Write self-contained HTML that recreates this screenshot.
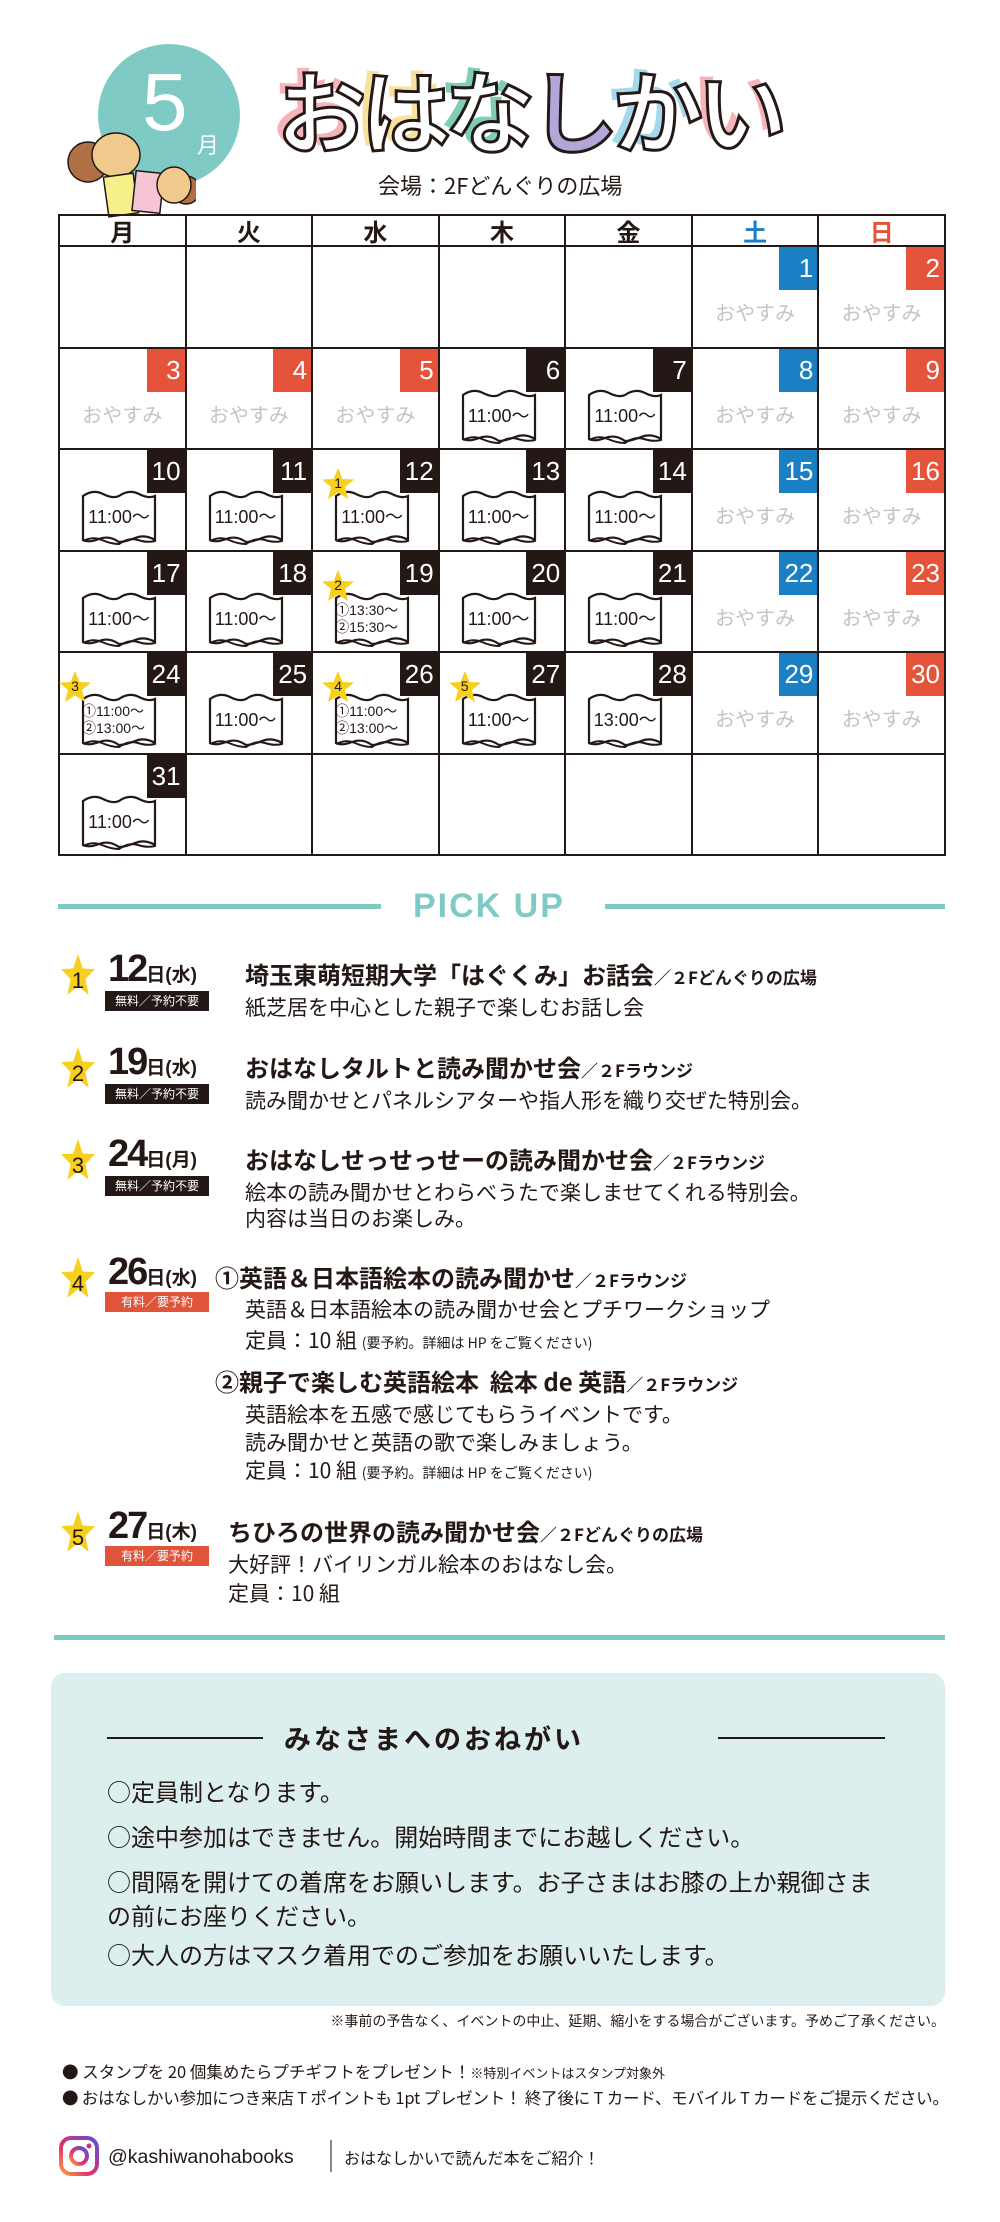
<!DOCTYPE html>
<html><head><meta charset="utf-8">
<style>
*{margin:0;padding:0;box-sizing:border-box}
body{width:1000px;height:2222px;background:#fff;position:relative;overflow:hidden;font-family:"Liberation Sans","Noto Sans CJK JP",sans-serif;color:#231815}
.a{position:absolute;white-space:nowrap}
table{position:absolute;left:58px;top:214px;width:888px;border-collapse:collapse;table-layout:fixed}
td{border:2.5px solid #231815;height:101.5px;padding:0;vertical-align:top}
th{border:2.5px solid #231815;height:31px;font-size:24px;line-height:26px;font-weight:bold;font-family:"Noto Sans CJK JP",sans-serif}
.c{position:relative;height:100%;width:100%}
.n{position:absolute;top:0;right:0;width:38px;height:43px;background:#231815;color:#fff;font-size:26px;line-height:43px;text-align:right;padding-right:4px}
.n.b{background:#1b7fc4}.n.r{background:#e5533a}
.ya{position:absolute;left:0;right:0;top:50px;text-align:center;color:#c4c4c4;font-size:20px;font-family:"Noto Sans CJK JP",sans-serif}
.bk{position:absolute;left:20px;top:38px;width:78px;height:58px}
.bk svg{position:absolute;left:0;top:0}
.bk span{position:absolute;left:0;right:0;top:19px;text-align:center;font-size:18px;line-height:20px}
.bk span.t{top:12px;font-size:14px;line-height:17px;left:2px;text-align:left}
.st{position:absolute;left:8px;top:18px;width:34px;height:32px}
.st b{position:absolute;left:0;right:0;top:7px;text-align:center;font-size:14px;font-weight:normal}
.star{position:absolute;width:36px;height:42px}
.star b{position:absolute;left:0;right:0;top:14px;text-align:center;font-size:22px;font-weight:normal}
.dt{position:absolute;left:108px;font-size:38px;font-weight:bold;letter-spacing:-2px;line-height:38px}
.dt small{font-size:19px;letter-spacing:0}
.bd{position:absolute;left:105px;width:104px;height:20px;background:#231815;color:#fff;font-size:12px;line-height:20px;text-align:center;font-family:"Noto Sans CJK JP",sans-serif}
.bd.r{background:#e0553a}
.tt{position:absolute;font-size:24px;font-weight:bold;line-height:28px;white-space:nowrap;font-family:"Noto Sans CJK JP",sans-serif}
.tt small{font-size:17px}
.ds{position:absolute;font-size:21px;line-height:26px;white-space:nowrap;font-family:"Noto Sans CJK JP",sans-serif}
.ds small{font-size:14px}
.ni{position:absolute;left:107px;font-size:24px;line-height:30px;white-space:nowrap;font-family:"Noto Sans CJK JP",sans-serif}
</style></head><body>
<svg width="0" height="0" style="position:absolute">
<defs>
<symbol id="book" viewBox="0 0 78 58"><path d="M3,8 Q13,1 23,6 T39,8 Q49,1 59,6 T75,8 L75,52 Q65,46 55,50 T39,54 Q29,47 19,51 T3,52 Z" fill="#fff" stroke="#231815" stroke-width="2.2"/><path d="M3,53 Q13,48 22,52 T39,56 Q49,49 58,52 T75,53" fill="none" stroke="#231815" stroke-width="2"/></symbol>
<symbol id="star" viewBox="0 0 34 32"><polygon points="17,0 21.5,11 33,11.5 24,19 27,31 17,24.5 7,31 10,19 1,11.5 12.5,11" fill="#f7cf1d"/></symbol>
</defs></svg>

<div class="a" style="left:98px;top:44px;width:142px;height:142px;border-radius:50%;background:#7fcac5"></div>
<div class="a" style="left:142px;top:58px;font-size:82px;line-height:90px;color:#fff;font-family:'Liberation Sans',sans-serif">5</div>
<div class="a" style="left:197px;top:128px;font-size:22px;color:#fff;font-family:'Noto Sans CJK JP',sans-serif">月</div>
<svg class="a" style="left:66px;top:120px" width="130" height="100" viewBox="0 0 130 100">
<circle cx="22" cy="42" r="20" fill="#b06f45" stroke="#231815" stroke-width="1.5"/>
<ellipse cx="50" cy="35" rx="24" ry="22" fill="#f0c98c" stroke="#231815" stroke-width="1.5"/>
<rect x="40" y="55" width="30" height="40" fill="#f7f08a" stroke="#231815" stroke-width="1.5" transform="rotate(-8 55 75)"/>
<rect x="68" y="52" width="28" height="40" fill="#f7c4d4" stroke="#231815" stroke-width="1.5" transform="rotate(6 82 72)"/>
<circle cx="120" cy="70" r="14" fill="#b06f45" stroke="#231815" stroke-width="1.5"/>
<ellipse cx="108" cy="65" rx="17" ry="18" fill="#f0c98c" stroke="#231815" stroke-width="1.5"/>
</svg>
<div class="a" style="left:277px;top:52px;font-size:90px;line-height:110px;letter-spacing:-6px;font-weight:bold;font-family:'Noto Sans CJK JP',sans-serif;-webkit-text-stroke:3px #231815;color:#fff">
<span style="text-shadow:-7px -5px 0 #f4b4ba">お</span><span style="text-shadow:-7px -5px 0 #f8e19c">は</span><span style="text-shadow:-7px -5px 0 #7fcdb4">な</span><span style="color:#b3a6d8">し</span><span style="text-shadow:-7px -5px 0 #a5d8ea">か</span><span style="text-shadow:-7px -5px 0 #f4b4ba">い</span></div>
<div class="a" style="left:378px;top:170px;font-size:22px;line-height:30px;font-family:'Noto Sans CJK JP',sans-serif">会場：2Fどんぐりの広場</div>

<table>
<tr><th>月</th><th>火</th><th>水</th><th>木</th><th>金</th><th style="color:#1b7fc4">土</th><th style="color:#e5533a">日</th></tr>
<tr><td></td><td></td><td></td><td></td><td></td>
<td><div class="c"><div class="n b">1</div><div class="ya">おやすみ</div></div></td>
<td><div class="c"><div class="n r">2</div><div class="ya">おやすみ</div></div></td></tr>
<tr>
<td><div class="c"><div class="n r">3</div><div class="ya">おやすみ</div></div></td>
<td><div class="c"><div class="n r">4</div><div class="ya">おやすみ</div></div></td>
<td><div class="c"><div class="n r">5</div><div class="ya">おやすみ</div></div></td>
<td><div class="c"><div class="n">6</div><div class="bk"><svg width="78" height="58"><use href="#book"/></svg><span>11:00〜</span></div></div></td>
<td><div class="c"><div class="n">7</div><div class="bk"><svg width="78" height="58"><use href="#book"/></svg><span>11:00〜</span></div></div></td>
<td><div class="c"><div class="n b">8</div><div class="ya">おやすみ</div></div></td>
<td><div class="c"><div class="n r">9</div><div class="ya">おやすみ</div></div></td></tr>
<tr>
<td><div class="c"><div class="n">10</div><div class="bk"><svg width="78" height="58"><use href="#book"/></svg><span>11:00〜</span></div></div></td>
<td><div class="c"><div class="n">11</div><div class="bk"><svg width="78" height="58"><use href="#book"/></svg><span>11:00〜</span></div></div></td>
<td><div class="c"><div class="n">12</div><div class="bk"><svg width="78" height="58"><use href="#book"/></svg><span>11:00〜</span></div><div class="st"><svg width="34" height="32"><use href="#star"/></svg><b>1</b></div></div></td>
<td><div class="c"><div class="n">13</div><div class="bk"><svg width="78" height="58"><use href="#book"/></svg><span>11:00〜</span></div></div></td>
<td><div class="c"><div class="n">14</div><div class="bk"><svg width="78" height="58"><use href="#book"/></svg><span>11:00〜</span></div></div></td>
<td><div class="c"><div class="n b">15</div><div class="ya">おやすみ</div></div></td>
<td><div class="c"><div class="n r">16</div><div class="ya">おやすみ</div></div></td></tr>
<tr>
<td><div class="c"><div class="n">17</div><div class="bk"><svg width="78" height="58"><use href="#book"/></svg><span>11:00〜</span></div></div></td>
<td><div class="c"><div class="n">18</div><div class="bk"><svg width="78" height="58"><use href="#book"/></svg><span>11:00〜</span></div></div></td>
<td><div class="c"><div class="n">19</div><div class="bk"><svg width="78" height="58"><use href="#book"/></svg><span class="t">①13:30〜<br>②15:30〜</span></div><div class="st"><svg width="34" height="32"><use href="#star"/></svg><b>2</b></div></div></td>
<td><div class="c"><div class="n">20</div><div class="bk"><svg width="78" height="58"><use href="#book"/></svg><span>11:00〜</span></div></div></td>
<td><div class="c"><div class="n">21</div><div class="bk"><svg width="78" height="58"><use href="#book"/></svg><span>11:00〜</span></div></div></td>
<td><div class="c"><div class="n b">22</div><div class="ya">おやすみ</div></div></td>
<td><div class="c"><div class="n r">23</div><div class="ya">おやすみ</div></div></td></tr>
<tr>
<td><div class="c"><div class="n">24</div><div class="bk"><svg width="78" height="58"><use href="#book"/></svg><span class="t">①11:00〜<br>②13:00〜</span></div><div class="st" style="left:-2px"><svg width="34" height="32"><use href="#star"/></svg><b>3</b></div></div></td>
<td><div class="c"><div class="n">25</div><div class="bk"><svg width="78" height="58"><use href="#book"/></svg><span>11:00〜</span></div></div></td>
<td><div class="c"><div class="n">26</div><div class="bk"><svg width="78" height="58"><use href="#book"/></svg><span class="t">①11:00〜<br>②13:00〜</span></div><div class="st"><svg width="34" height="32"><use href="#star"/></svg><b>4</b></div></div></td>
<td><div class="c"><div class="n">27</div><div class="bk"><svg width="78" height="58"><use href="#book"/></svg><span>11:00〜</span></div><div class="st"><svg width="34" height="32"><use href="#star"/></svg><b>5</b></div></div></td>
<td><div class="c"><div class="n">28</div><div class="bk"><svg width="78" height="58"><use href="#book"/></svg><span>13:00〜</span></div></div></td>
<td><div class="c"><div class="n b">29</div><div class="ya">おやすみ</div></div></td>
<td><div class="c"><div class="n r">30</div><div class="ya">おやすみ</div></div></td></tr>
<tr>
<td><div class="c"><div class="n">31</div><div class="bk"><svg width="78" height="58"><use href="#book"/></svg><span>11:00〜</span></div></div></td>
<td></td><td></td><td></td><td></td><td></td><td></td></tr>
</table>

<div class="a" style="left:58px;top:904px;width:323px;height:5px;background:#7fcac5"></div>
<div class="a" style="left:605px;top:904px;width:340px;height:5px;background:#7fcac5"></div>
<div class="a" style="left:413px;top:887px;font-size:34px;line-height:38px;font-weight:bold;color:#7fcac5;letter-spacing:2px">PICK UP</div>

<div class="star" style="left:60px;top:954px"><svg width="36" height="42" viewBox="0 0 34 32" preserveAspectRatio="none"><use href="#star"/></svg><b>1</b></div>
<div class="dt" style="top:950px">12<small>日(水)</small></div>
<div class="bd" style="top:991px">無料／予約不要</div>
<div class="tt" style="left:245px;top:960px">埼玉東萌短期大学「はぐくみ」お話会<small>／２Fどんぐりの広場</small></div>
<div class="ds" style="left:245px;top:994px">紙芝居を中心とした親子で楽しむお話し会</div>

<div class="star" style="left:60px;top:1047px"><svg width="36" height="42" viewBox="0 0 34 32" preserveAspectRatio="none"><use href="#star"/></svg><b>2</b></div>
<div class="dt" style="top:1043px">19<small>日(水)</small></div>
<div class="bd" style="top:1084px">無料／予約不要</div>
<div class="tt" style="left:245px;top:1053px">おはなしタルトと読み聞かせ会<small>／２Fラウンジ</small></div>
<div class="ds" style="left:245px;top:1087px">読み聞かせとパネルシアターや指人形を織り交ぜた特別会。</div>

<div class="star" style="left:60px;top:1139px"><svg width="36" height="42" viewBox="0 0 34 32" preserveAspectRatio="none"><use href="#star"/></svg><b>3</b></div>
<div class="dt" style="top:1135px">24<small>日(月)</small></div>
<div class="bd" style="top:1176px">無料／予約不要</div>
<div class="tt" style="left:245px;top:1145px">おはなしせっせっせーの読み聞かせ会<small>／２Fラウンジ</small></div>
<div class="ds" style="left:245px;top:1179px">絵本の読み聞かせとわらべうたで楽しませてくれる特別会。<br>内容は当日のお楽しみ。</div>

<div class="star" style="left:60px;top:1257px"><svg width="36" height="42" viewBox="0 0 34 32" preserveAspectRatio="none"><use href="#star"/></svg><b>4</b></div>
<div class="dt" style="top:1253px">26<small>日(水)</small></div>
<div class="bd r" style="top:1292px">有料／要予約</div>
<div class="tt" style="left:215px;top:1263px">①英語＆日本語絵本の読み聞かせ<small>／２Fラウンジ</small></div>
<div class="ds" style="left:245px;top:1294px;line-height:31px">英語＆日本語絵本の読み聞かせ会とプチワークショップ<br>定員：10 組 <small>(要予約。詳細は HP をご覧ください)</small></div>
<div class="tt" style="left:215px;top:1367px">②親子で楽しむ英語絵本&nbsp;&nbsp;絵本 de 英語<small>／２Fラウンジ</small></div>
<div class="ds" style="left:245px;top:1400px;line-height:28px">英語絵本を五感で感じてもらうイベントです。<br>読み聞かせと英語の歌で楽しみましょう。<br>定員：10 組 <small>(要予約。詳細は HP をご覧ください)</small></div>

<div class="star" style="left:60px;top:1511px"><svg width="36" height="42" viewBox="0 0 34 32" preserveAspectRatio="none"><use href="#star"/></svg><b>5</b></div>
<div class="dt" style="top:1507px">27<small>日(木)</small></div>
<div class="bd r" style="top:1546px">有料／要予約</div>
<div class="tt" style="left:228px;top:1517px">ちひろの世界の読み聞かせ会<small>／２Fどんぐりの広場</small></div>
<div class="ds" style="left:228px;top:1550px;line-height:29px">大好評！バイリンガル絵本のおはなし会。<br>定員：10 組</div>

<div class="a" style="left:54px;top:1635px;width:891px;height:5px;background:#7fcac5"></div>

<div class="a" style="left:51px;top:1673px;width:894px;height:333px;background:#dceeed;border-radius:14px"></div>
<div class="a" style="left:107px;top:1737px;width:156px;height:1.5px;background:#231815"></div>
<div class="a" style="left:718px;top:1737px;width:167px;height:1.5px;background:#231815"></div>
<div class="a" style="left:284px;top:1721px;font-size:27px;line-height:34px;font-weight:bold;letter-spacing:3px;font-family:'Noto Sans CJK JP',sans-serif">みなさまへのおねがい</div>
<div class="ni" style="top:1776px">○定員制となります。</div>
<div class="ni" style="top:1821px">○途中参加はできません。開始時間までにお越しください。</div>
<div class="ni" style="top:1866px">○間隔を開けての着席をお願いします。お子さまはお膝の上か親御さま</div>
<div class="ni" style="top:1900px">の前にお座りください。</div>
<div class="ni" style="top:1939px">○大人の方はマスク着用でのご参加をお願いいたします。</div>

<div class="a" style="right:55px;top:2012px;font-size:14px;line-height:18px;font-family:'Noto Sans CJK JP',sans-serif">※事前の予告なく、イベントの中止、延期、縮小をする場合がございます。予めご了承ください。</div>
<div class="a" style="left:62px;top:2061px;font-size:16.5px;line-height:20px;font-family:'Noto Sans CJK JP',sans-serif">● スタンプを 20 個集めたらプチギフトをプレゼント！<small style="font-size:13px">※特別イベントはスタンプ対象外</small></div>
<div class="a" style="left:62px;top:2087px;font-size:16.5px;line-height:20px;letter-spacing:-0.2px;font-family:'Noto Sans CJK JP',sans-serif">● おはなしかい参加につき来店 T ポイントも 1pt プレゼント！ 終了後に T カード、モバイル T カードをご提示ください。</div>

<svg class="a" style="left:59px;top:2136px" width="40" height="40" viewBox="0 0 40 40">
<defs><linearGradient id="ig" x1="0" y1="1" x2="1" y2="0"><stop offset="0" stop-color="#f9a03f"/><stop offset="0.4" stop-color="#e1306c"/><stop offset="1" stop-color="#5851db"/></linearGradient></defs>
<rect x="2" y="2" width="36" height="36" rx="10" fill="none" stroke="url(#ig)" stroke-width="4"/>
<circle cx="20" cy="20" r="8" fill="none" stroke="url(#ig)" stroke-width="4"/>
<circle cx="30" cy="10" r="2.5" fill="#c13584"/>
</svg>
<div class="a" style="left:108px;top:2144px;font-size:19.5px;line-height:26px">@kashiwanohabooks</div>
<div class="a" style="left:330px;top:2140px;width:1.5px;height:32px;background:#888"></div>
<div class="a" style="left:344px;top:2146px;font-size:16px;line-height:22px;font-family:'Noto Sans CJK JP',sans-serif">おはなしかいで読んだ本をご紹介！</div>
</body></html>
